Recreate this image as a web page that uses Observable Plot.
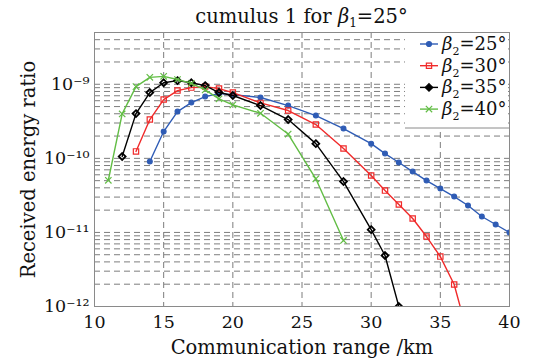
<!DOCTYPE html>
<html>
<head>
<meta charset="utf-8">
<script src="https://cdn.jsdelivr.net/npm/d3@7"></script>
<script src="https://cdn.jsdelivr.net/npm/@observablehq/plot@0.6"></script>
<style>
  html, body { margin: 0; padding: 0; background: white; }
  svg text { font-family: "DejaVu Serif", serif; }
</style>
</head>
<body>
<div id="chart"></div>
<script>
// ---- data ----
const title = "cumulus 1 for ";
const xLabel = "Communication range /km";
const yLabel = "Received energy ratio";
const seriesNames = ["25°", "30°", "35°", "40°"];
const seriesColors = ["#2f5cb5", "#f02a2a", "#000000", "#62bd45"];
const seriesSymbols = ["circle", "square", "diamond2", "times"];

const range25 = [14,15,16,17,18,19,20,22,24,26,28,30,31,32,33,34,35,36,37,38,39,40];
const ratio25 = [9.05e-11,2.30e-10,4.28e-10,5.66e-10,6.82e-10,7.48e-10,7.26e-10,6.62e-10,5.16e-10,3.78e-10,2.52e-10,1.58e-10,1.16e-10,8.78e-11,6.63e-11,5.01e-11,3.91e-11,3.05e-11,2.31e-11,1.64e-11,1.28e-11,9.97e-12];

const range30 = [13,14,15,16,17,18,19,20,22,24,26,28,30,31,32,33,34,35,36,37];
const ratio30 = [1.24e-10,3.34e-10,6.22e-10,8.22e-10,9.02e-10,9.3e-10,8.75e-10,7.73e-10,5.6e-10,4.42e-10,2.86e-10,1.36e-10,5.86e-11,3.67e-11,2.38e-11,1.54e-11,8.8e-12,4.72e-12,1.98e-12,4.1e-13];

const range35 = [12,13,14,15,16,17,18,19,20,22,24,26,28,30,31,32];
const ratio35 = [1.06e-10,4.02e-10,7.73e-10,1.05e-9,1.12e-9,1.05e-9,9.6e-10,7.73e-10,7.05e-10,5.16e-10,3.34e-10,1.58e-10,4.86e-11,1.09e-11,4.88e-12,1.0e-12];

const range40 = [11,12,13,14,15,16,17,18,19,20,22,24,26,28];
const ratio40 = [5.06e-11,3.98e-10,9.3e-10,1.24e-9,1.28e-9,1.16e-9,1.03e-9,8.4e-10,6.36e-10,5.27e-10,4.06e-10,2.13e-10,5.3e-11,7.8e-12];

const xTicks = [10,15,20,25,30,35,40];
const yTicks = [1e-12,1e-11,1e-10,1e-9];
const yTickLabels = ["10⁻¹²","10⁻¹¹","10⁻¹⁰","10⁻⁹"];

// ---- build tables ----
const ranges = [range25, range30, range35, range40];
const ratios = [ratio25, ratio30, ratio35, ratio40];
const series = seriesNames.map((name, i) => ({
  name, color: seriesColors[i], symbol: seriesSymbols[i],
  data: ranges[i].map((x, j) => ({x, y: ratios[i][j]}))
}));

const minorY = [];
for (let e = -12; e <= -9; e++) for (let m = 1; m <= 9; m++) {
  const v = m * Math.pow(10, e);
  if (v > 1e-12 && v <= 5e-9) minorY.push(v);
}

const marks = [
  Plot.gridY(minorY, {stroke: "#6e6e6e", strokeOpacity: 1, strokeDasharray: "6,4", strokeWidth: 0.9}),
  Plot.gridX(xTicks.slice(1, -1), {stroke: "#6e6e6e", strokeOpacity: 1, strokeDasharray: "6,4", strokeWidth: 0.9}),
  Plot.axisX(xTicks, {tickSize: 0, tickPadding: 9, label: null, fontSize: 17.5}),
  Plot.axisY(yTicks, {tickSize: 0, tickPadding: 5, label: null, fontSize: 17.5,
    tickFormat: d => yTickLabels[yTicks.indexOf(d)]}),
  Plot.text([xLabel], {frameAnchor: "bottom", dy: 47, fontSize: 19.5}),
  Plot.text([yLabel], {frameAnchor: "left", textAnchor: "middle", dx: -66, rotate: -90, fontSize: 19.5}),
];
for (const s of series) {
  marks.push(Plot.line(s.data, {x: "x", y: "y", stroke: s.color, strokeWidth: 1.4, clip: true}));
  const isFilled = s.symbol === "circle";
  marks.push(Plot.dot(s.data, {x: "x", y: "y", symbol: s.symbol, clip: true,
    r: s.symbol === "circle" ? 2.4 : s.symbol === "diamond2" ? 3.1 : 3,
    fill: isFilled ? s.color : "none", stroke: s.color,
    strokeWidth: s.symbol === "diamond2" ? 1.8 : 1.2}));
}
marks.push(Plot.frame({stroke: "#8a8a8a", strokeWidth: 1}));

const chart = Plot.plot({
  width: 536, height: 363,
  marginLeft: 94, marginRight: 27, marginTop: 32, marginBottom: 57,
  style: {fontFamily: "DejaVu Serif, serif", fontSize: "17px", background: "white", color: "#111"},
  x: {domain: [10, 40]},
  y: {type: "log", domain: [1e-12, 5e-9]},
  marks
});
document.getElementById("chart").append(chart);

// ---- title and legend (rich text) ----
const svg = d3.select(chart);
const t = svg.append("text").attr("x", 301.5).attr("y", 23).attr("text-anchor", "middle")
  .attr("font-size", 19.5).attr("fill", "#111");
t.append("tspan").text(title);
t.append("tspan").attr("font-style", "italic").text("β");
t.append("tspan").attr("font-size", 12).attr("dy", 4).text("1");
t.append("tspan").attr("dy", -4).text("=25°");

const lg = svg.append("g");
lg.append("rect").attr("x", 405).attr("y", 33).attr("width", 103).attr("height", 95).attr("fill", "white");
lg.append("line").attr("x1", 405).attr("x2", 509).attr("y1", 128).attr("y2", 128).attr("stroke", "#8a8a8a");
const sym = {circle: d3.symbolCircle, square: d3.symbolSquare, diamond2: d3.symbolDiamond2, times: d3.symbolTimes};
series.forEach((s, i) => {
  const cy = 44 + i * 21.7;
  lg.append("line").attr("x1", 420).attr("x2", 438).attr("y1", cy).attr("y2", cy)
    .attr("stroke", s.color).attr("stroke-width", 1.4);
  const size = s.symbol === "circle" ? 20 : s.symbol === "diamond2" ? 36 : 28;
  lg.append("path").attr("d", d3.symbol(sym[s.symbol], size)())
    .attr("transform", `translate(429,${cy})`)
    .attr("fill", s.symbol === "circle" || s.symbol === "diamond2" ? s.color : "none")
    .attr("stroke", s.color).attr("stroke-width", 1.2);
  const tx = lg.append("text").attr("x", 442).attr("y", cy + 6).attr("text-anchor", "start")
    .attr("font-size", 18).attr("fill", "#111");
  tx.append("tspan").attr("font-style", "italic").text("β");
  tx.append("tspan").attr("font-size", 11).attr("dy", 5).text("2");
  tx.append("tspan").attr("dy", -5).text("=" + s.name);
});
</script>
</body>
</html>
